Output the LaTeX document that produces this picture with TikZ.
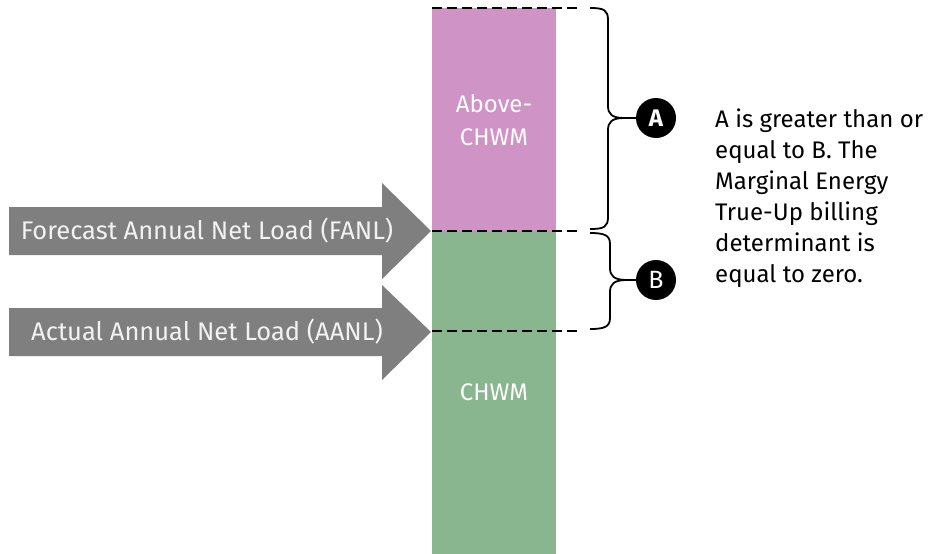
\documentclass[tikz,border=0pt]{standalone}
\usepackage{fontspec}
\setmainfont{Fira Sans}
\definecolor{pinkbar}{RGB}{207,147,198}
\definecolor{greenbar}{RGB}{138,182,143}
\definecolor{arrowgray}{RGB}{127,127,127}
\definecolor{arrowtext}{RGB}{242,242,242}
\begin{document}
\begin{tikzpicture}[x=1pt,y=-1pt,
  dashline/.style={black,line width=1.7pt,dash pattern=on 10pt off 5pt},
  curlybrace/.style={black,line width=1.8pt,line join=round},
  badge/.style={circle,fill=black,text=white,minimum size=40pt,inner sep=0pt,font=\fontsize{25}{25}\selectfont},
  arrowbody/.style={fill=arrowgray},
  arrowlabel/.style={text=arrowtext,inner sep=0pt,font=\fontsize{25.5}{28}\selectfont},
  barlabel/.style={text=white,inner sep=0pt,align=center,font=\fontsize{24}{33}\selectfont},
  note/.style={inner sep=0pt,align=left,anchor=north west,font=\fontsize{24}{31}\selectfont}]
\useasboundingbox (0,0) rectangle (932,554);
% bar
\fill[pinkbar] (432,8) rectangle (556,231);
\fill[greenbar] (432,231) rectangle (556,554);
\node[barlabel] (above) at (494,120) {Above-\\CHWM};
\node[barlabel] (chwm) at (494,392) {CHWM};
% dashed lines
\coordinate (d1a) at (432,8);   \coordinate (d1b) at (580,8);
\coordinate (d2a) at (432,231); \coordinate (d2b) at (580,231);
\coordinate (d3a) at (432,331); \coordinate (d3b) at (580,331);
\draw[dashline] (d1a) -- (d1b);
\draw[dashline] (d2a) -- (d2b);
\draw[dashline] (d3a) -- (d3b);
% arrows
\fill[arrowbody] (9,207) -- (382,207) -- (382,183) -- (431,231) -- (382,279) -- (382,255) -- (9,255) -- cycle;
\node[arrowlabel] (fanl) at (207,231) {Forecast Annual Net Load (FANL)};
\fill[arrowbody] (9,308) -- (382,308) -- (382,285) -- (431,332) -- (382,380) -- (382,356) -- (9,356) -- cycle;
\node[arrowlabel] (aanl) at (207,332) {Actual Annual Net Load (AANL)};
% braces
\coordinate (tipA) at (624,118);
\coordinate (tipB) at (627,280);
\draw[curlybrace] (590,8) .. controls (604,8) and (608,10) .. (608,20) -- (608,106)
  .. controls (608,114) and (612,118) .. (tipA)
  .. controls (612,118) and (608,122) .. (608,130) -- (608,217)
  .. controls (608,227) and (604,229) .. (590,229);
\draw[curlybrace] (590,233) .. controls (604,233) and (610,235) .. (610,244) -- (610,268)
  .. controls (610,276) and (614,280) .. (tipB)
  .. controls (614,280) and (610,284) .. (610,292) -- (610,318)
  .. controls (610,327) and (604,329) .. (590,329);
\node[badge,font=\fontsize{24}{24}\selectfont\bfseries] (A) at (656,118) {A};
\node[badge] (B) at (656,280) {B};
\draw[curlybrace] (tipA) -- (A);
\draw[curlybrace] (tipB) -- (B);
% note
\node[note] (txt) at (715,109) {A is greater than or\\equal to B. The\\Marginal Energy\\True-Up billing\\determinant is\\equal to zero.};
\end{tikzpicture}
\end{document}
